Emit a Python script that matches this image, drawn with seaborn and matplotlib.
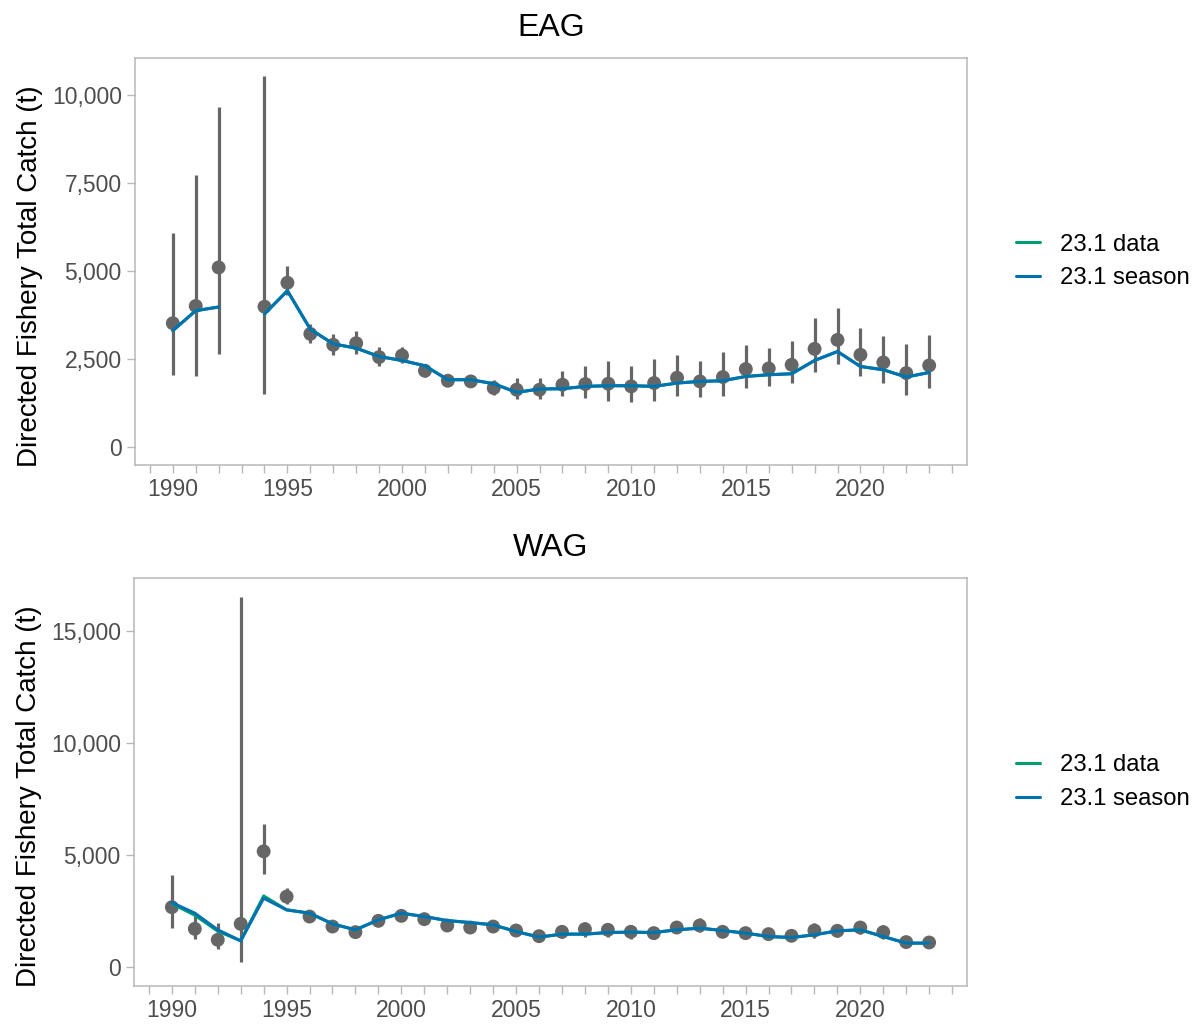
import numpy as np
import pandas as pd
import matplotlib
matplotlib.use("Agg")
import matplotlib.pyplot as plt
import seaborn as sns
from matplotlib.ticker import FuncFormatter, MultipleLocator

years = list(range(1990, 2024))

# ---- EAG ----
eag_obs = [3502, 3992, 5087, np.nan, 3972, 4652, 3199, 2888, 2935, 2539, 2585, 2152, 1868, 1849,
           1661, 1614, 1614, 1755, 1775, 1784, 1708, 1803, 1953, 1849, 1973, 2200, 2217, 2321,
           2774, 3029, 2605, 2388, 2086, 2303]
eag_hi = [6067, 7700, 9654, np.nan, 10512, 5124, 3482, 3199, 3293, 2840, 2840, 2350, 2038, 2038,
          1897, 1944, 1944, 2132, 2274, 2435, 2293, 2491, 2605, 2435, 2699, 2888, 2812, 3001,
          3643, 3926, 3360, 3152, 2916, 3171]
eag_lo = [2038, 2010, 2633, np.nan, 1500, 4300, 2935, 2605, 2633, 2274, 2369, 1962, 1707, 1707,
          1472, 1350, 1350, 1425, 1378, 1302, 1255, 1283, 1444, 1406, 1425, 1670, 1727, 1803,
          2104, 2350, 2010, 1803, 1472, 1661]
eag_season = [3293, 3859, 3963, np.nan, 3765, 4425, 3331, 2916, 2794, 2557, 2444, 2293, 1897, 1897,
              1784, 1538, 1633, 1642, 1708, 1727, 1727, 1708, 1803, 1849, 1868, 1991, 2038, 2067,
              2444, 2699, 2274, 2180, 1973, 2104]
eag_data = list(eag_season)

# ---- WAG ----
wag_obs = [2689, 1723, 1233, 1945, 5180, 3161, 2271, 1825, 1576, 2079, 2302, 2155, 1870, 1781,
           1825, 1647, 1395, 1589, 1709, 1678, 1589, 1531, 1781, 1870, 1589, 1531, 1487, 1411,
           1647, 1634, 1781, 1576, 1131, 1113]
wag_hi = [4127, 2300, 2003, 16548, 6420, 3535, 2420, 1990, 1720, 2240, 2470, 2310, 2030, 1930,
          1990, 1840, 1560, 1850, 2050, 2000, 1900, 1800, 2040, 2200, 1830, 1760, 1720, 1650,
          2000, 1900, 2080, 1900, 1300, 1340]
wag_lo = [1754, 1250, 819, 223, 4172, 2836, 2120, 1660, 1430, 1920, 2140, 2000, 1720, 1630,
          1660, 1450, 1230, 1330, 1380, 1360, 1290, 1260, 1520, 1560, 1360, 1310, 1260, 1180,
          1330, 1370, 1480, 1280, 960, 900]
wag_season = [2894, 2422, 1678, 1189, 3090, 2569, 2422, 1945, 1678, 2124, 2422, 2271, 2092, 2003,
              1901, 1603, 1353, 1487, 1487, 1558, 1576, 1558, 1678, 1754, 1647, 1531, 1380, 1336,
              1456, 1634, 1678, 1380, 1086, 1086]
wag_data = [2850, 2330, 1620, 1189, 3190, 2569, 2422, 1945, 1678, 2124, 2422, 2271, 2092, 2003,
            1901, 1603, 1353, 1487, 1487, 1558, 1576, 1558, 1678, 1754, 1647, 1531, 1380, 1336,
            1456, 1634, 1678, 1380, 1086, 1086]

models = ["23.1 data", "23.1 season"]
palette = {"23.1 data": "#009E73", "23.1 season": "#0072B2"}

W, H = 1197, 1025
sns.set_style("white")
plt.rcParams["font.family"] = ["Liberation Sans", "DejaVu Sans"]
plt.rcParams["text.color"] = "black"
fig = plt.figure(figsize=(W / 100, H / 100), dpi=100)

def long_lines(data, season):
    rows = []
    for name, vals in zip(models, [data, season]):
        seg = 0
        for y, v in zip(years, vals):
            if v is None or (isinstance(v, float) and np.isnan(v)):
                seg += 1
                continue
            rows.append({"year": y, "catch": v, "model": name, "seg": f"{name}-{seg}"})
    return pd.DataFrame(rows)

panels = [
    ("EAG", eag_obs, eag_lo, eag_hi, eag_data, eag_season, [135, 58, 967, 465], 2500),
    ("WAG", wag_obs, wag_lo, wag_hi, wag_data, wag_season, [134, 578, 967, 986], 5000),
]

grey = "#B8B8B8"
for title, obs, lo, hi, dat, sea, box, step in panels:
    x0, y0, x1, y1 = box
    ax = fig.add_axes([x0 / W, 1 - y1 / H, (x1 - x0) / W, (y1 - y0) / H])
    pts = pd.DataFrame({"year": years, "obs": obs, "lo": lo, "hi": hi}).dropna()
    ax.vlines(pts["year"], pts["lo"], pts["hi"], color="#666666", lw=2.3, zorder=2)
    sns.scatterplot(data=pts, x="year", y="obs", color="#666666", s=100, edgecolor="none",
                    ax=ax, zorder=3, legend=False)
    ld = long_lines(dat, sea)
    sns.lineplot(data=ld, x="year", y="catch", hue="model", units="seg", estimator=None,
                 hue_order=models, palette=palette, lw=2.2, ax=ax, zorder=4)
    ymax = np.nanmax(hi)
    ax.set_ylim(-0.05 * ymax, 1.05 * ymax)
    ax.set_xlim(1990 - 0.05 * 33, 2023 + 0.05 * 33)
    ax.xaxis.set_major_locator(MultipleLocator(5))
    ax.xaxis.set_minor_locator(MultipleLocator(1))
    ax.yaxis.set_major_locator(MultipleLocator(step))
    ax.yaxis.set_major_formatter(FuncFormatter(lambda v, p: f"{v:,.0f}"))
    ax.tick_params(which="both", axis="both", direction="out", length=5.5, width=1,
                   color=grey, labelcolor="#4D4D4D", labelsize=16.5, pad=4,
                   bottom=True, left=True)
    ax.tick_params(which="minor", axis="x", labelbottom=False, bottom=True, length=5.5)
    for s in ax.spines.values():
        s.set_color(grey)
        s.set_linewidth(1.1)
    ax.grid(False)
    ax.set_xlabel("")
    ax.set_ylabel("Directed Fishery Total Catch (t)", fontsize=20, color="black")
    ax.yaxis.set_label_coords(-0.111, 0.465)
    ax.set_title(title, fontsize=23, pad=16, color="black")
    handles, labels = ax.get_legend_handles_labels()
    leg = ax.legend(handles, labels, loc="center left", bbox_to_anchor=(1.033, 0.5),
                    frameon=False, fontsize=17.2, handlelength=1.0, handletextpad=0.85,
                    labelspacing=0.5)
    for t in leg.get_texts():
        t.set_color("black")

fig.savefig("out.png", dpi=100)
